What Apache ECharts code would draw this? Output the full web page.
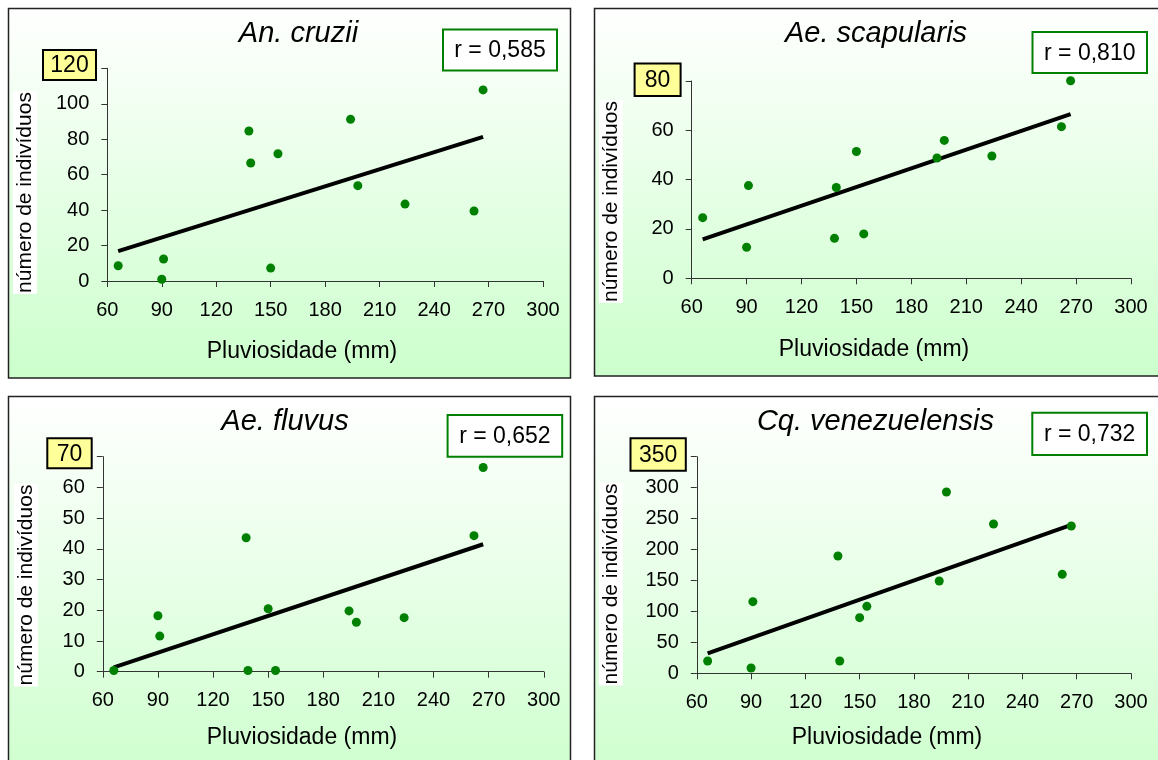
<!DOCTYPE html>
<html>
<head>
<meta charset="utf-8">
<script src="https://cdn.jsdelivr.net/npm/echarts@6/dist/echarts.min.js"></script>
<style>
  html, body { margin: 0; padding: 0; background: #fff; }
  #chart { width: 1158px; height: 760px; }
</style>
</head>
<body>
<div id="chart"></div>
<script>
// rainfall (mm) for the 12 collections, shared by all panels
const rainfall = [66, 90, 91, 138, 139, 150, 154, 194, 198, 224, 262, 267];

// number of individuals per species, same order as rainfall
const cruzii = [8.6, 1, 12.4, 84.6, 66.6, 7.3, 71.8, 91.2, 53.8, 43.4, 39.5, 107.8];
const scapularis = [24.6, 12.6, 37.6, 16.2, 36.8, 51.4, 18, 48.8, 55.9, 49.6, 61.5, 80.1];
const fluvus = [0.4, 18.2, 11.6, 43.6, 0.4, 20.5, 0.4, 19.8, 16.1, 17.6, 44.3, 66.5];
const venezuelensis = [19.9, 8.6, 115.8, 189.5, 19.9, 89.9, 108.2, 149.2, 292.9, 241.2, 159.9, 238];

// regression line end points
const trendX = [66, 267];
const trendCruzii = [16.9, 81.3];
const trendScapularis = [15.8, 66.6];
const trendFluvus = [1.4, 41.5];
const trendVenezuelensis = [32.3, 240];

const speciesNames = ["An. cruzii", "Ae. scapularis", "Ae. fluvus", "Cq. venezuelensis"];
const rValues = ["r = 0,585", "r = 0,810", "r = 0,652", "r = 0,732"];
const yMax = [120, 80, 70, 350];
const yStep = [20, 20, 10, 50];
const xMin = 60, xMax = 300, xStep = 30;
const xLabel = "Pluviosidade (mm)";
const yLabel = "número de indivíduos";

const counts = [cruzii, scapularis, fluvus, venezuelensis];
const trends = [trendCruzii, trendScapularis, trendFluvus, trendVenezuelensis];

// pixel layout of each panel
const layout = [
  { box: [8.5, 8.5, 562, 369.5], grid: [107.3, 68.3, 435.7, 212.7], title: [298.5, 34],
    rBox: [443, 29.5, 114, 41], yBox: [43, 50, 53, 30], yName: [25, 192.5], xName: [302, 352] },
  { box: [594.5, 8.5, 600, 367.5], grid: [691.7, 81, 439.3, 197.3], title: [876, 34],
    rBox: [1032.5, 32, 114.5, 41], yBox: [634.6, 63.5, 46, 32.5], yName: [611, 201.5], xName: [874, 350] },
  { box: [8.5, 396.5, 562, 400], grid: [102.8, 456.7, 441, 215], title: [285, 422],
    rBox: [447.6, 415, 114.6, 41.7], yBox: [47.3, 438.3, 44.4, 30], yName: [26, 585], xName: [302, 738] },
  { box: [594.5, 396.5, 600, 400], grid: [696.8, 456.7, 434.2, 216.6], title: [875.4, 422],
    rBox: [1032.3, 412.7, 114.7, 42.3], yBox: [630.5, 438.3, 55.3, 32.4], yName: [611, 584], xName: [887, 738] }
];

const FONT = "'Liberation Sans', Arial, sans-serif";
const chart = echarts.init(document.getElementById("chart"), null, { renderer: "canvas" });

const grids = [], xAxes = [], yAxes = [], series = [], graphics = [];

layout.forEach((p, i) => {
  grids.push({ left: p.grid[0], top: p.grid[1], width: p.grid[2], height: p.grid[3] });

  xAxes.push({
    gridIndex: i, type: "value", min: xMin, max: xMax, interval: xStep,
    axisLine: { onZero: false, lineStyle: { color: "#333", width: 1 } },
    axisTick: { length: 6, lineStyle: { color: "#333" } },
    axisLabel: { fontSize: 20, color: "#000", margin: 19, fontFamily: FONT },
    splitLine: { show: false }
  });

  const top = yMax[i];
  yAxes.push({
    gridIndex: i, type: "value", min: 0, max: top, interval: yStep[i],
    axisLine: { show: true, lineStyle: { color: "#333", width: 1 } },
    axisTick: { show: true, length: 6, lineStyle: { color: "#333" } },
    axisLabel: {
      fontSize: 20, color: "#000", margin: 18, fontFamily: FONT,
      formatter: v => (v === top ? "" : String(v))
    },
    splitLine: { show: false }
  });

  series.push({
    type: "line", xAxisIndex: i, yAxisIndex: i,
    data: trendX.map((x, k) => [x, trends[i][k]]),
    symbol: "none", lineStyle: { color: "#000", width: 4 }, silent: true, z: 2
  });
  series.push({
    type: "scatter", xAxisIndex: i, yAxisIndex: i, clip: false,
    data: rainfall.map((x, k) => [x, counts[i][k]]),
    symbolSize: 9, itemStyle: { color: "#008000", opacity: 1 }, z: 3
  });

  // panel background
  graphics.push({
    type: "rect", z: -10,
    shape: { x: p.box[0], y: p.box[1], width: p.box[2], height: p.box[3] },
    style: {
      fill: { type: "linear", x: 0, y: 0, x2: 0, y2: 1,
        colorStops: [{ offset: 0, color: "#ffffff" }, { offset: 1, color: "#ccffcc" }] },
      stroke: "#222", lineWidth: 1.5
    }
  });
  graphics.push({
    type: "text", x: p.title[0], y: p.title[1], z: 5,
    style: { text: speciesNames[i], fill: "#000", font: "italic 29px " + FONT,
      align: "center", verticalAlign: "middle" }
  });
  graphics.push({
    type: "rect", z: 5,
    shape: { x: p.rBox[0], y: p.rBox[1], width: p.rBox[2], height: p.rBox[3] },
    style: { fill: "#fff", stroke: "#008000", lineWidth: 2 }
  });
  graphics.push({
    type: "text", z: 6, x: p.rBox[0] + p.rBox[2] / 2, y: p.rBox[1] + p.rBox[3] / 2 + 1,
    style: { text: rValues[i], fill: "#000", font: "23px " + FONT, align: "center", verticalAlign: "middle" }
  });
  graphics.push({
    type: "rect", z: 5,
    shape: { x: p.yBox[0], y: p.yBox[1], width: p.yBox[2], height: p.yBox[3] },
    style: { fill: "#ffff99", stroke: "#000", lineWidth: 2 }
  });
  graphics.push({
    type: "text", z: 6, x: p.yBox[0] + p.yBox[2] / 2, y: p.yBox[1] + p.yBox[3] / 2 + 1,
    style: { text: String(yMax[i]), fill: "#000", font: "23px " + FONT, align: "center", verticalAlign: "middle" }
  });
  graphics.push({
    type: "text", z: 5, x: p.yName[0], y: p.yName[1], rotation: Math.PI / 2,
    style: { text: yLabel, fill: "#000", font: "21px " + FONT, align: "center", verticalAlign: "middle",
      backgroundColor: "#fff", padding: [2, 1, 1, 1] }
  });
  graphics.push({
    type: "text", z: 5, x: p.xName[0], y: p.xName[1],
    style: { text: xLabel, fill: "#000", font: "23px " + FONT, align: "center", verticalAlign: "middle" }
  });
});

chart.setOption({
  animation: false,
  backgroundColor: "#fff",
  grid: grids,
  xAxis: xAxes,
  yAxis: yAxes,
  series: series,
  graphic: graphics
});
</script>
</body>
</html>
